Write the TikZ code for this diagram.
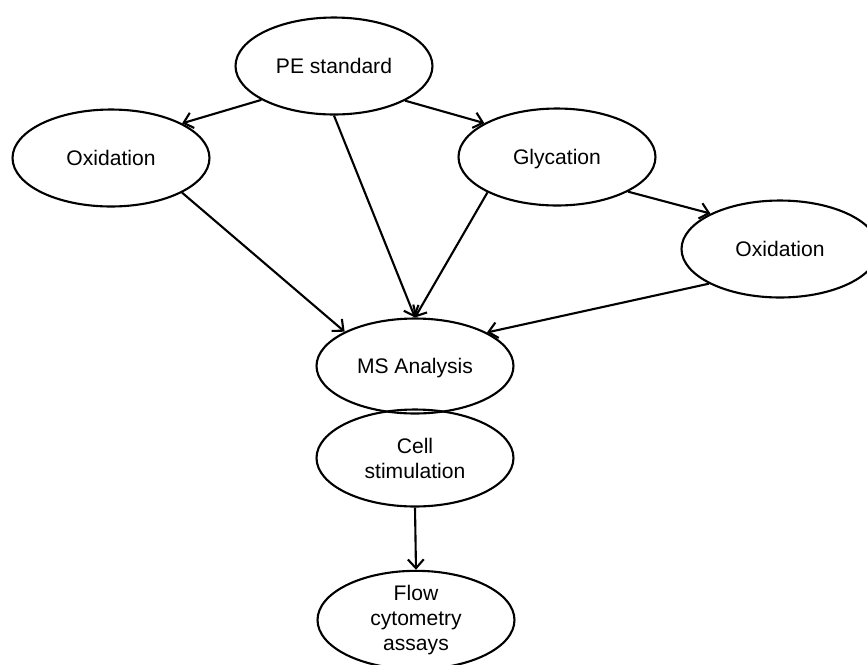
\documentclass[tikz,border=0pt]{standalone}
\usepackage{fontspec}
\setmainfont{Liberation Sans}
\usetikzlibrary{shapes.geometric, arrows.meta}
\begin{document}
\begin{tikzpicture}[x=0.02cm, y=-0.02cm,
		stage/.style={draw, ellipse, line width=1.2pt, inner sep=0pt, minimum width=3.94cm, minimum height=1.94cm, align=center, font=\fontsize{12}{14.2}\selectfont},
		flow/.style={-{Straight Barb[length=5pt, width=9pt]}, line width=1.2pt}]
		\useasboundingbox (0,0) rectangle (867,664);
		\node[stage] (pe) at (334,66) {PE standard};
		\node[stage] (oxl) at (111,158) {Oxidation};
		\node[stage, text depth=0pt] (gly) at (557,157) {Glycation};
		\node[stage] (oxr) at (780,249) {Oxidation};
		\node[stage, text depth=0pt, minimum height=1.9cm] (ms) at (415,366) {MS Analysis};
		\node[stage] (cell) at (415,458) {Cell\\stimulation};
		\node[stage] (fc) at (416,620) {Flow\\cytometry\\assays};
		\draw[flow] (pe.205) -- (oxl.26);
		\draw[flow] (pe.-26) -- (gly.155);
		\draw[flow] (pe.south) -- (ms.north);
		\draw[flow] (oxl.-26) -- (ms.154);
		\draw[flow] (gly.207) -- (ms.north);
		\draw[flow] (gly.-26) -- (oxr.153);
		\draw[flow] (oxr.206) -- (ms.25);
		\draw[flow] (cell.south) -- (fc.north);
	\end{tikzpicture}
\end{document}
